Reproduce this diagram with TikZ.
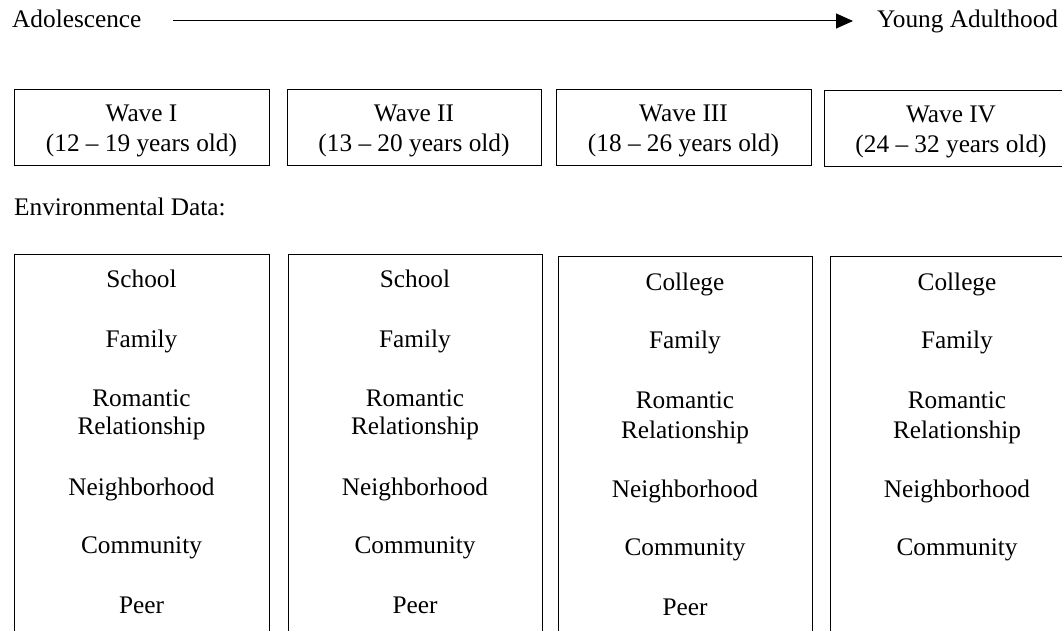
\documentclass[tikz,border=0pt]{standalone}
\usepackage{fontspec}
\setmainfont{Liberation Serif}
\usetikzlibrary{arrows.meta}
\begin{document}
\begin{tikzpicture}[x=1pt,y=-1pt,
  box/.style={draw, line width=1pt, inner sep=0pt, anchor=north west},
  wavebox/.style={box, minimum width=255pt, minimum height=76pt},
  envbox/.style={box, minimum width=255pt, minimum height=420pt},
  txt/.style={anchor=base, inner sep=0pt, font=\fontsize{25.3}{30}\selectfont},
  ltxt/.style={txt, anchor=base west}]
\useasboundingbox (0,0) rectangle (1062,631);

% timeline
\node[ltxt] (adol) at (12,28) {Adolescence};
\node[ltxt] (young) at (877,28) {Young Adulthood};
\coordinate (as) at (173,21);
\coordinate (ae) at (853,21);
\draw[line width=1pt, -{Triangle[length=17pt,width=15pt]}] (as) -- (ae);

% wave boxes
\node[wavebox] (w1) at (14,89) {};
\node[wavebox, minimum width=254pt] (w2) at (287,89) {};
\node[wavebox] (w3) at (556,89) {};
\node[wavebox, minimum width=254pt] (w4) at (824,90) {};

\node[txt] (w1a) at (141.5,122) {Wave I};
\node[txt] (w1b) at (141.5,152) {(12 – 19 years old)};
\node[txt] (w2a) at (414,122) {Wave II};
\node[txt] (w2b) at (414,152) {(13 – 20 years old)};
\node[txt] (w3a) at (683.5,122) {Wave III};
\node[txt] (w3b) at (683.5,152) {(18 – 26 years old)};
\node[txt] (w4a) at (951,123) {Wave IV};
\node[txt] (w4b) at (951,153) {(24 – 32 years old)};

\node[ltxt] (env) at (14,215) {Environmental Data:};

% environment boxes
\node[envbox] (e1) at (14,254) {};
\node[envbox, minimum width=254pt] (e2) at (288,254) {};
\node[envbox, minimum width=254pt] (e3) at (558,256) {};
\node[envbox, minimum width=254pt] (e4) at (830,256) {};

% column 1
\node[txt] (e1s) at (141.5,287) {School};
\node[txt] (e1f) at (141.5,347) {Family};
\node[txt] (e1r) at (141.5,406) {Romantic};
\node[txt] (e1q) at (141.5,434) {Relationship};
\node[txt] (e1n) at (141.5,495) {Neighborhood};
\node[txt] (e1c) at (141.5,553) {Community};
\node[txt] (e1p) at (141.5,613) {Peer};
% column 2
\node[txt] (e2s) at (415,287) {School};
\node[txt] (e2f) at (415,347) {Family};
\node[txt] (e2r) at (415,406) {Romantic};
\node[txt] (e2q) at (415,434) {Relationship};
\node[txt] (e2n) at (415,495) {Neighborhood};
\node[txt] (e2c) at (415,553) {Community};
\node[txt] (e2p) at (415,613) {Peer};
% column 3
\node[txt] (e3s) at (685,290) {College};
\node[txt] (e3f) at (685,348) {Family};
\node[txt] (e3r) at (685,408) {Romantic};
\node[txt] (e3q) at (685,438) {Relationship};
\node[txt] (e3n) at (685,497) {Neighborhood};
\node[txt] (e3c) at (685,555) {Community};
\node[txt] (e3p) at (685,615) {Peer};
% column 4
\node[txt] (e4s) at (957,290) {College};
\node[txt] (e4f) at (957,348) {Family};
\node[txt] (e4r) at (957,408) {Romantic};
\node[txt] (e4q) at (957,438) {Relationship};
\node[txt] (e4n) at (957,497) {Neighborhood};
\node[txt] (e4c) at (957,555) {Community};
\end{tikzpicture}
\end{document}
